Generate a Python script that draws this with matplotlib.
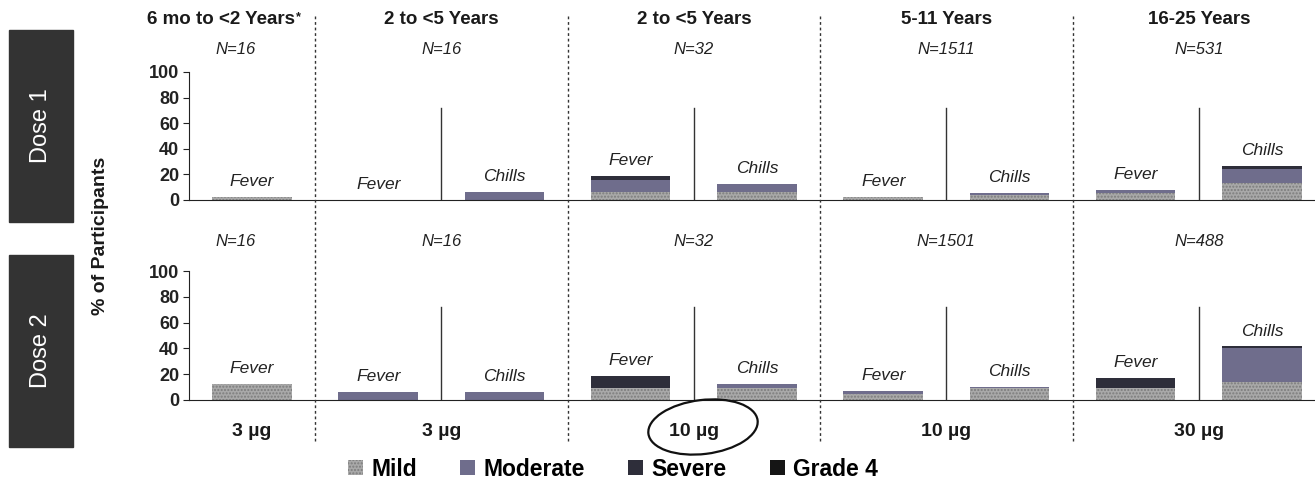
import numpy as np
import matplotlib
matplotlib.use("Agg")
import matplotlib.pyplot as plt
from matplotlib.patches import Rectangle, Ellipse, Patch
from matplotlib.lines import Line2D
from matplotlib.transforms import blended_transform_factory

plt.rcParams['font.family'] = ['Liberation Sans', 'DejaVu Sans']

# one bar per slot, left to right across the figure
symptoms = ['Fever', 'Fever', 'Chills', 'Fever', 'Chills', 'Fever', 'Chills', 'Fever', 'Chills']
age_groups = ['6 mo to <2 Years', '2 to <5 Years', '2 to <5 Years', '5-11 Years', '16-25 Years']
doses = ['3 µg', '3 µg', '10 µg', '10 µg', '30 µg']
n_dose1 = ['N=16', 'N=16', 'N=32', 'N=1511', 'N=531']
n_dose2 = ['N=16', 'N=16', 'N=32', 'N=1501', 'N=488']
severity = ['Mild', 'Moderate', 'Severe', 'Grade 4']

# % of participants, dose 1
d1_mild = [2.5, 0.0, 0.0, 6.3, 6.3, 2.0, 4.0, 5.5, 13.0]
d1_moderate = [0.0, 0.0, 6.3, 9.4, 6.3, 0.5, 1.5, 2.5, 11.0]
d1_severe = [0.0, 0.0, 0.0, 3.1, 0.0, 0.0, 0.0, 0.0, 2.5]
d1_grade4 = [0, 0, 0, 0, 0, 0, 0, 0, 0]

# % of participants, dose 2
d2_mild = [12.5, 0.0, 0.0, 9.4, 9.4, 5.0, 9.0, 9.0, 14.0]
d2_moderate = [0.0, 6.3, 6.3, 0.0, 3.1, 1.8, 1.0, 0.0, 26.0]
d2_severe = [0.0, 0.0, 0.0, 9.4, 0.0, 0.0, 0.0, 8.0, 1.5]
d2_grade4 = [0, 0, 0, 0, 0, 0, 0, 0, 0]

colors = ['#a9a9a9', '#6f6d8c', '#2e2e3a', '#151515']
hatches = ['.....', None, None, None]

W, H = 1315, 482
fig = plt.figure(figsize=(W / 100, H / 100), dpi=100)

x = np.arange(len(symptoms)) + 0.5
xmax = 8.92
panel_edges = [1, 3, 5, 7]
dividers = [2, 4, 6, 8]
title_x = [0.255, 2, 4, 6, 8]
n_x = [0.37, 2, 4, 6, 8]
dose_x = [0.5, 2, 4, 6, 8]


def draw_row(ax, layers, nlabels, n_y):
    bottom = np.zeros(len(x))
    for vals, c, h in zip(layers, colors, hatches):
        vals = np.array(vals, dtype=float)
        ax.bar(x, vals, width=0.63, bottom=bottom, color=c, hatch=h,
               edgecolor='#7c7c7c' if h else c, linewidth=0)
        bottom += vals
    for xi, top, s in zip(x, bottom, symptoms):
        ax.text(xi, top + 6, s, ha='center', va='bottom', fontsize=12.5,
                style='italic', color='#222222')
    for d in dividers:
        ax.plot([d, d], [0, 72], color='#333333', lw=1)
    for xi, lab in zip(n_x, nlabels):
        ax.text(xi, n_y, lab, ha='center', va='center', fontsize=12,
                style='italic', color='#222222',
                transform=blended_transform_factory(ax.transData, fig.transFigure))
    ax.set_xlim(0, xmax)
    ax.set_ylim(0, 100)
    ax.set_yticks([0, 20, 40, 60, 80, 100])
    ax.set_xticks([])
    for sp in ['top', 'right']:
        ax.spines[sp].set_visible(False)
    ax.spines['left'].set_bounds(0, 100)
    ax.spines['left'].set_color('#222222')
    ax.spines['bottom'].set_color('#222222')
    ax.tick_params(axis='y', direction='out', length=4, labelsize=13, pad=3,
                   colors='#222222')
    for t in ax.get_yticklabels():
        t.set_fontweight('bold')
    ax.patch.set_alpha(0)


ax1 = fig.add_axes([188.8 / W, (H - 200) / H, 1126.2 / W, 128 / H])
ax2 = fig.add_axes([188.8 / W, (H - 400) / H, 1126.2 / W, 129 / H])
draw_row(ax1, [d1_mild, d1_moderate, d1_severe, d1_grade4], n_dose1, 1 - 50 / H)
draw_row(ax2, [d2_mild, d2_moderate, d2_severe, d2_grade4], n_dose2, 1 - 242 / H)

# dashed separators between age groups, running the full height
tr = blended_transform_factory(ax1.transData, fig.transFigure)
for e in panel_edges:
    fig.add_artist(Line2D([e, e], [1 - 16 / H, 1 - 443 / H], transform=tr,
                          color='#333333', lw=1, linestyle=(0, (2, 2))))

titles = []
for xi, t in zip(title_x, age_groups):
    titles.append(fig.text(xi, 1 - 19 / H, t, transform=tr, ha='center',
                           va='center', fontsize=13.5, fontweight='bold',
                           color='#1a1a1a'))
# superscript asterisk on the first age group
fig.add_artist(plt.Annotation('*', xy=(1, 0.95), xycoords=titles[0],
                              xytext=(1, 0), textcoords='offset points',
                              ha='left', va='top', fontsize=9,
                              fontweight='bold', color='#1a1a1a'))

for xi, d in zip(dose_x, doses):
    fig.text(xi, 1 - 431 / H, d, transform=tr, ha='center', va='center',
             fontsize=14, fontweight='bold', color='#1a1a1a')

# hand-drawn circle around the 10 µg label
fig.add_artist(Ellipse((7.03, (H - 427) / 100), 1.10, 0.54, angle=7,
                       transform=fig.dpi_scale_trans, fill=False,
                       edgecolor='#111111', lw=1.6))

# dark dose boxes on the left
for y0, y1, lab in [(30, 222, 'Dose 1'), (255, 447, 'Dose 2')]:
    fig.add_artist(Rectangle((9 / W, (H - y1) / H), 64 / W, (y1 - y0) / H,
                             transform=fig.transFigure, color='#333333'))
    fig.text(41 / W, 1 - (y0 + y1) / 2 / H, lab, rotation=90, ha='center',
             va='center', fontsize=17, color='white')

fig.text(101 / W, 1 - 236 / H, '% of Participants', rotation=90, ha='center',
         va='center', fontsize=14, fontweight='bold', color='#1a1a1a')

handles = [Patch(facecolor=c, hatch=h, edgecolor='#7c7c7c' if h else c, lw=0)
           for c, h in zip(colors, hatches)]
fig.legend(handles, severity, loc='center', ncol=4,
           bbox_to_anchor=(613 / W, 1 - 469 / H), frameon=False,
           prop={'weight': 'bold', 'size': 16.5}, handlelength=0.65,
           handleheight=0.65, handletextpad=0.35, columnspacing=1.9)

fig.savefig('out.png', dpi=100)
